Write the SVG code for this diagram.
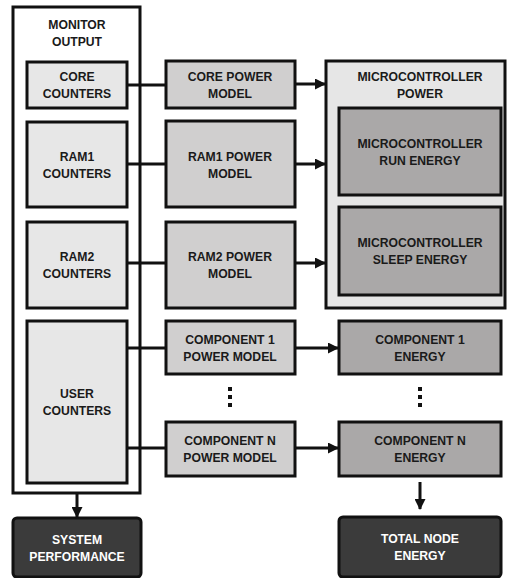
<svg xmlns="http://www.w3.org/2000/svg" width="507" height="578" viewBox="0 0 507 578">
<style>
text{font-family:"Liberation Sans",Arial,sans-serif;font-weight:bold;font-size:12.2px;text-anchor:middle;fill:#1a1a1a}
.b{stroke:#111;stroke-width:3}
.w{fill:#fff}
.c{fill:#e7e7e7}
.p{fill:#d0cfcf}
.e{fill:#aaa8a8}
.m{fill:#e6e6e6}
.d{fill:#3b3b3b}
text.t{fill:#fff}
.ln{stroke:#111;stroke-width:3;fill:none}
</style>
<defs>
<marker id="ah" markerWidth="11" markerHeight="11" refX="10" refY="5.5" orient="auto" markerUnits="userSpaceOnUse"><path d="M0,0 L11,5.5 L0,11 Z" fill="#111"/></marker>
</defs>
<g id="monitor"><rect class="b w" x="13" y="7" width="127" height="486"/><text x="77" y="29">MONITOR</text><text x="77" y="46">OUTPUT</text></g>
<g id="core-counters"><rect class="b c" x="27" y="62" width="100" height="46"/><text x="77" y="81">CORE</text><text x="77" y="98">COUNTERS</text></g>
<g id="ram1-counters"><rect class="b c" x="27" y="122" width="100" height="85"/><text x="77" y="161">RAM1</text><text x="77" y="178">COUNTERS</text></g>
<g id="ram2-counters"><rect class="b c" x="27" y="222" width="100" height="86"/><text x="77" y="261">RAM2</text><text x="77" y="278">COUNTERS</text></g>
<g id="user-counters"><rect class="b c" x="27" y="321" width="100" height="162"/><text x="77" y="398">USER</text><text x="77" y="415">COUNTERS</text></g>
<g id="core-power"><rect class="b p" x="166" y="61" width="129" height="47"/><text x="230" y="81">CORE POWER</text><text x="230" y="98">MODEL</text></g>
<g id="ram1-power"><rect class="b p" x="166" y="121" width="129" height="86"/><text x="230" y="161">RAM1 POWER</text><text x="230" y="178">MODEL</text></g>
<g id="ram2-power"><rect class="b p" x="166" y="222" width="129" height="86"/><text x="230" y="261">RAM2 POWER</text><text x="230" y="278">MODEL</text></g>
<g id="comp1-power"><rect class="b p" x="166" y="321" width="129" height="53"/><text x="230" y="344">COMPONENT 1</text><text x="230" y="361">POWER MODEL</text></g>
<g id="compn-power"><rect class="b p" x="166" y="422" width="129" height="54"/><text x="230" y="445">COMPONENT N</text><text x="230" y="462">POWER MODEL</text></g>
<g id="mcu-power"><rect class="b m" x="326" y="61" width="179" height="247"/><text x="420" y="81">MICROCONTROLLER</text><text x="420" y="98">POWER</text></g>
<g id="mcu-run"><rect class="b e" x="339" y="108" width="162" height="87"/><text x="420" y="148">MICROCONTROLLER</text><text x="420" y="165">RUN ENERGY</text></g>
<g id="mcu-sleep"><rect class="b e" x="339" y="207" width="162" height="88"/><text x="420" y="247">MICROCONTROLLER</text><text x="420" y="264">SLEEP ENERGY</text></g>
<g id="comp1-energy"><rect class="b e" x="339" y="321" width="162" height="53"/><text x="420" y="344">COMPONENT 1</text><text x="420" y="361">ENERGY</text></g>
<g id="compn-energy"><rect class="b e" x="339" y="422" width="162" height="54"/><text x="420" y="445">COMPONENT N</text><text x="420" y="462">ENERGY</text></g>
<g id="system-performance"><rect class="b d" x="13" y="518" width="128" height="59" rx="4"/><text class="t" x="77" y="544">SYSTEM</text><text class="t" x="77" y="561">PERFORMANCE</text></g>
<g id="total-energy"><rect class="b d" x="339" y="517" width="162" height="60" rx="4"/><text class="t" x="420" y="543">TOTAL NODE</text><text class="t" x="420" y="560">ENERGY</text></g>
<g id="dots" fill="#111"><rect x="228" y="387" width="4" height="4"/><rect x="228" y="395" width="4" height="4"/><rect x="228" y="403" width="4" height="4"/><rect x="418" y="387" width="4" height="4"/><rect x="418" y="395" width="4" height="4"/><rect x="418" y="403" width="4" height="4"/></g>
<g id="connectors">
<line class="ln" x1="127" y1="85" x2="166" y2="85"/>
<line class="ln" x1="127" y1="164" x2="166" y2="164"/>
<line class="ln" x1="127" y1="263" x2="166" y2="263"/>
<line class="ln" x1="127" y1="348" x2="166" y2="348"/>
<line class="ln" x1="127" y1="448" x2="166" y2="448"/>
<line class="ln" x1="295" y1="84" x2="325" y2="84" marker-end="url(#ah)"/>
<line class="ln" x1="295" y1="164" x2="325" y2="164" marker-end="url(#ah)"/>
<line class="ln" x1="295" y1="263" x2="325" y2="263" marker-end="url(#ah)"/>
<line class="ln" x1="295" y1="348" x2="338" y2="348" marker-end="url(#ah)"/>
<line class="ln" x1="295" y1="448" x2="338" y2="448" marker-end="url(#ah)"/>
<line class="ln" x1="77" y1="493" x2="77" y2="517" marker-end="url(#ah)"/>
<line class="ln" x1="420" y1="482" x2="420" y2="509" marker-end="url(#ah)"/>
</g>
</svg>
